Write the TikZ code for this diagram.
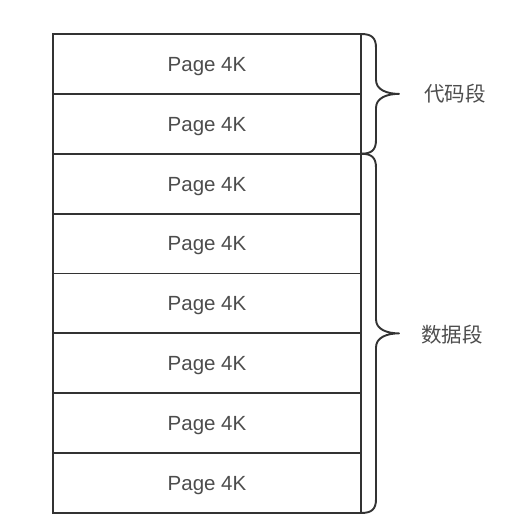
\documentclass[tikz,border=0pt]{standalone}
\usepackage{fontspec}
\setmainfont{Liberation Sans}
\newfontfamily\cjk{Noto Sans CJK SC}
\usetikzlibrary{calc}
\definecolor{edge}{HTML}{333333}
\definecolor{txt}{HTML}{4D4D4D}
\begin{document}
\begin{tikzpicture}[x=1pt,y=-1pt,
  pagebox/.style={draw=edge,line width=1.9pt,minimum width=308pt,minimum height=59.875pt,
    inner sep=0pt,outer sep=0pt,text=txt,font=\fontsize{20.5}{24}\selectfont,
    text height=14.7pt,text depth=0pt,anchor=north west},
  bracepath/.style={draw=edge,line width=1.9pt,line cap=round,line join=round},
  seglabel/.style={text=txt,font=\cjk\fontsize{20.5}{24}\selectfont}]
\useasboundingbox (0,0) rectangle (532,526);
\foreach \i in {1,...,8} {
  \node[pagebox] (p\i) at (53,{34+(\i-1)*59.875}) {Page 4K};
}
% code segment brace
\draw[bracepath] let \p1=(p1.north east), \p2=(p2.south east), \n1={(\y1+\y2)/2} in
  (\x1,\y1) .. controls (\x1+11pt,\y1) and (\x1+15pt,\y1-4pt) .. (\x1+15pt,\y1-14pt)
  -- (\x1+15pt,\n1+14pt) .. controls (\x1+15pt,\n1+4pt) and (\x1+26pt,\n1) .. (\x1+38pt,\n1)
  .. controls (\x1+26pt,\n1) and (\x1+15pt,\n1-4pt) .. (\x1+15pt,\n1-14pt)
  -- (\x1+15pt,\y2+14pt) .. controls (\x1+15pt,\y2+4pt) and (\x1+11pt,\y2) .. (\x1,\y2);
% data segment brace
\draw[bracepath] let \p1=(p3.north east), \p2=(p8.south east), \n1={(\y1+\y2)/2} in
  (\x1,\y1) .. controls (\x1+11pt,\y1) and (\x1+15pt,\y1-4pt) .. (\x1+15pt,\y1-14pt)
  -- (\x1+15pt,\n1+14pt) .. controls (\x1+15pt,\n1+4pt) and (\x1+26pt,\n1) .. (\x1+38pt,\n1)
  .. controls (\x1+26pt,\n1) and (\x1+15pt,\n1-4pt) .. (\x1+15pt,\n1-14pt)
  -- (\x1+15pt,\y2+14pt) .. controls (\x1+15pt,\y2+4pt) and (\x1+11pt,\y2) .. (\x1,\y2);
\node[seglabel] (code) at (455,94) {代码段};
\node[seglabel] (data) at (452,335) {数据段};
\end{tikzpicture}
\end{document}
